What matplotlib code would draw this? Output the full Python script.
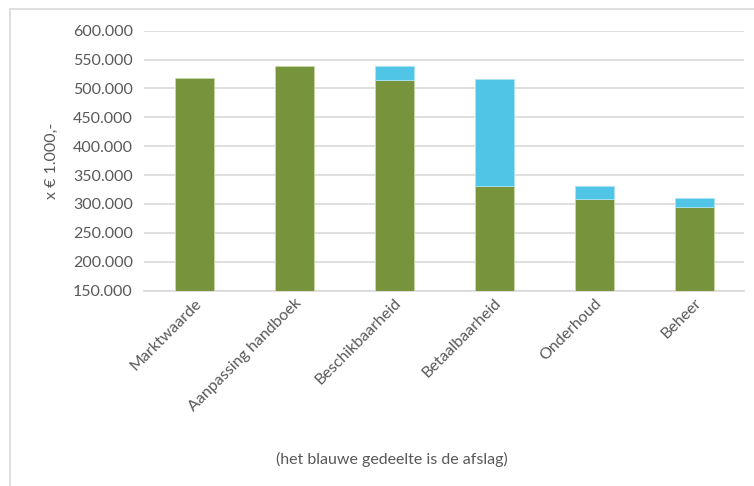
import matplotlib.pyplot as plt
from matplotlib.patches import Rectangle
from matplotlib.ticker import FuncFormatter

categories = ['Marktwaarde', 'Aanpassing handboek', 'Beschikbaarheid',
              'Betaalbaarheid', 'Onderhoud', 'Beheer']
waarde = [518000, 539000, 515000, 331000, 309000, 295000]   # groen
afslag = [0, 0, 24000, 185000, 22000, 15000]                # blauw

plt.rcParams['font.family'] = ['Lato', 'DejaVu Sans']
grey = '#595959'

fig = plt.figure(figsize=(7.54, 4.86), dpi=100)
ax = fig.add_axes([0.191, 0.402, 0.796, 0.535])

x = range(len(categories))
ax.bar(x, waarde, width=0.39, color='#77933C', edgecolor='#C9D8A8', linewidth=0.6, zorder=3)
blauw_rand = ['#A9E3F4' if a > 0 else 'none' for a in afslag]
ax.bar(x, afslag, width=0.39, bottom=waarde, color='#50C5E6', edgecolor=blauw_rand,
       linewidth=0.6, zorder=3)

ax.set_ylim(150000, 600000)
ax.set_xlim(-0.5, len(categories) - 0.5)
ax.set_yticks(range(150000, 600001, 50000))
ax.yaxis.set_major_formatter(FuncFormatter(lambda v, p: f'{int(v):,}'.replace(',', '.')))
ax.grid(axis='y', color='#D9D9D9', linewidth=1.2, zorder=0)
for s in ['top', 'right', 'left']:
    ax.spines[s].set_visible(False)
ax.spines['bottom'].set_color('#D9D9D9')
ax.spines['bottom'].set_linewidth(1.2)
ax.tick_params(length=0, labelsize=11.5, labelcolor=grey, pad=8)

ax.set_xticks(list(x))
ax.set_xticklabels(categories, rotation=45, ha='right', va='top', rotation_mode='anchor')
ax.tick_params(axis='x', pad=4)
ax.set_ylabel('x € 1.000,-', fontsize=11.5, color=grey, labelpad=10)

fig.text(0.52, 0.054, '(het blauwe gedeelte is de afslag)', ha='center', va='center',
         fontsize=11.5, color=grey)

# rand om de grafiek
fig.patches.append(Rectangle((10 / 754, -0.01), 1.0, 0.996 - 7 / 486 + 0.01,
                             transform=fig.transFigure, fill=False,
                             edgecolor='#D9D9D9', linewidth=1.2))

fig.savefig('out.png', dpi=100)
